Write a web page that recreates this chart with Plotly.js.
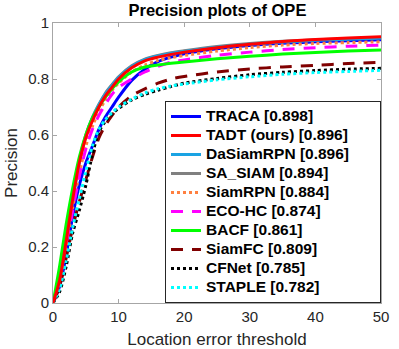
<!DOCTYPE html>
<html>
<head>
<meta charset="utf-8">
<script src="https://cdn.plot.ly/plotly-3.0.1.min.js"></script>
<style>html,body{margin:0;padding:0;background:#fff;}#chart{width:399px;height:349px;}</style>
</head>
<body>
<div id="chart"></div>
<script>
const thresholds = [0,1,2,3,4,5,6,7,8,9,10,12,14,16,18,20,25,30,35,40,45,50];

const traca     = [0,0.06,0.17,0.31,0.42,0.50,0.56,0.62,0.665,0.70,0.735,0.795,0.835,0.862,0.878,0.89,0.908,0.92,0.928,0.933,0.937,0.94];
const tadt      = [0,0.08,0.22,0.37,0.50,0.59,0.65,0.70,0.74,0.77,0.80,0.84,0.865,0.878,0.888,0.896,0.912,0.924,0.934,0.941,0.946,0.951];
const dasiamrpn = [0,0.075,0.215,0.365,0.50,0.595,0.66,0.707,0.747,0.777,0.805,0.845,0.869,0.882,0.891,0.898,0.913,0.924,0.932,0.938,0.942,0.946];
const sasiam    = [0,0.082,0.225,0.375,0.505,0.60,0.662,0.71,0.75,0.78,0.808,0.847,0.871,0.884,0.894,0.901,0.916,0.927,0.935,0.94,0.944,0.947];
const siamrpn   = [0,0.07,0.20,0.34,0.46,0.56,0.63,0.685,0.725,0.76,0.785,0.825,0.85,0.866,0.876,0.884,0.90,0.912,0.921,0.927,0.93,0.933];
const ecohc     = [0,0.07,0.19,0.33,0.45,0.55,0.62,0.67,0.71,0.745,0.77,0.80,0.825,0.845,0.86,0.868,0.885,0.896,0.905,0.912,0.917,0.921];
const bacf      = [0,0.13,0.28,0.41,0.52,0.60,0.66,0.70,0.735,0.765,0.79,0.825,0.843,0.85,0.856,0.861,0.872,0.881,0.889,0.895,0.90,0.904];
const siamfc    = [0,0.06,0.16,0.27,0.36,0.44,0.52,0.59,0.635,0.67,0.70,0.74,0.765,0.785,0.80,0.809,0.825,0.836,0.843,0.849,0.855,0.86];
const cfnet     = [0,0.04,0.13,0.25,0.33,0.42,0.53,0.61,0.65,0.675,0.695,0.725,0.745,0.76,0.773,0.785,0.802,0.815,0.824,0.83,0.835,0.838];
const staple    = [0,0.05,0.15,0.27,0.37,0.47,0.56,0.62,0.655,0.68,0.70,0.728,0.75,0.765,0.775,0.782,0.797,0.808,0.817,0.823,0.827,0.831];

const legendLabels = ['TRACA [0.898]','TADT (ours) [0.896]','DaSiamRPN [0.896]','SA_SIAM [0.894]','SiamRPN [0.884]','ECO-HC [0.874]','BACF [0.861]','SiamFC [0.809]','CFNet [0.785]','STAPLE [0.782]'];

const specs = [
  {y: traca,     name: legendLabels[0], color: '#0000FF', dash: 'solid', rank: 1},
  {y: sasiam,    name: legendLabels[3], color: '#808080', dash: 'solid', rank: 4},
  {y: dasiamrpn, name: legendLabels[2], color: '#1AA3E3', dash: 'solid', rank: 3},
  {y: siamrpn,   name: legendLabels[4], color: '#FF8040', dash: 'dot',   rank: 5},
  {y: ecohc,     name: legendLabels[5], color: '#FF00FF', dash: '12px,9px', rank: 6},
  {y: bacf,      name: legendLabels[6], color: '#00FF00', dash: 'solid', rank: 7},
  {y: siamfc,    name: legendLabels[7], color: '#800000', dash: '12px,9px', rank: 8},
  {y: cfnet,     name: legendLabels[8], color: '#000000', dash: 'dot',   rank: 9},
  {y: staple,    name: legendLabels[9], color: '#00FFFF', dash: 'dot',   rank: 10},
  {y: tadt,      name: legendLabels[1], color: '#FF0000', dash: 'solid', rank: 2}
];

const pad = '\u00a0\u00a0\u00a0\u00a0\u00a0\u00a0';
const traces = specs.map(s => ({
  x: thresholds, y: s.y,
  name: '<span style="font-size:15.5px">' + s.name + pad + '</span>',
  type: 'scatter', mode: 'lines',
  line: {color: s.color, width: 3, dash: s.dash, shape: 'spline', smoothing: 0.8},
  legendrank: s.rank
}));

const axisCommon = {
  showgrid: false, zeroline: false, showline: true, linecolor: '#a6a6a6', linewidth: 1,
  mirror: 'ticks', ticks: 'inside', ticklen: 4, tickcolor: '#a6a6a6',
  tickfont: {family: 'Liberation Sans, Arial, sans-serif', size: 15, color: '#262626'}
};

const layout = {
  width: 399, height: 349,
  margin: {l: 53, r: 18, t: 23, b: 46},
  paper_bgcolor: '#fff', plot_bgcolor: '#fff',
  font: {family: 'Liberation Sans, Arial, sans-serif', color: '#262626'},
  title: {text: '<b>Precision plots of OPE</b>', font: {size: 16.5, color: '#000'}, x: 0.545, xanchor: 'center', y: 0.97, yanchor: 'middle'},
  xaxis: Object.assign({}, axisCommon, {
    range: [0, 50], tickvals: [0,10,20,30,40,50], ticktext: ['0','10','20','30','40','50'],
    title: {text: 'Location error threshold', font: {size: 17, color: '#262626'}, standoff: 13}
  }),
  yaxis: Object.assign({}, axisCommon, {
    range: [0, 1], tickvals: [0,0.2,0.4,0.6,0.8,1], ticktext: ['0','0.2','0.4','0.6','0.8','1'],
    title: {text: 'Precision', font: {size: 17, color: '#262626'}, standoff: 6}
  }),
  showlegend: true,
  legend: {
    x: 1, xanchor: 'right', y: 0, yanchor: 'bottom',
    bgcolor: '#fff', bordercolor: '#262626', borderwidth: 1,
    font: {family: 'Liberation Sans, Arial, sans-serif', size: 11.8, color: '#000', weight: 'bold'},
    traceorder: 'normal', tracegroupgap: 0
  }
};

Plotly.newPlot('chart', traces, layout, {staticPlot: true, displayModeBar: false});
</script>
</body>
</html>
